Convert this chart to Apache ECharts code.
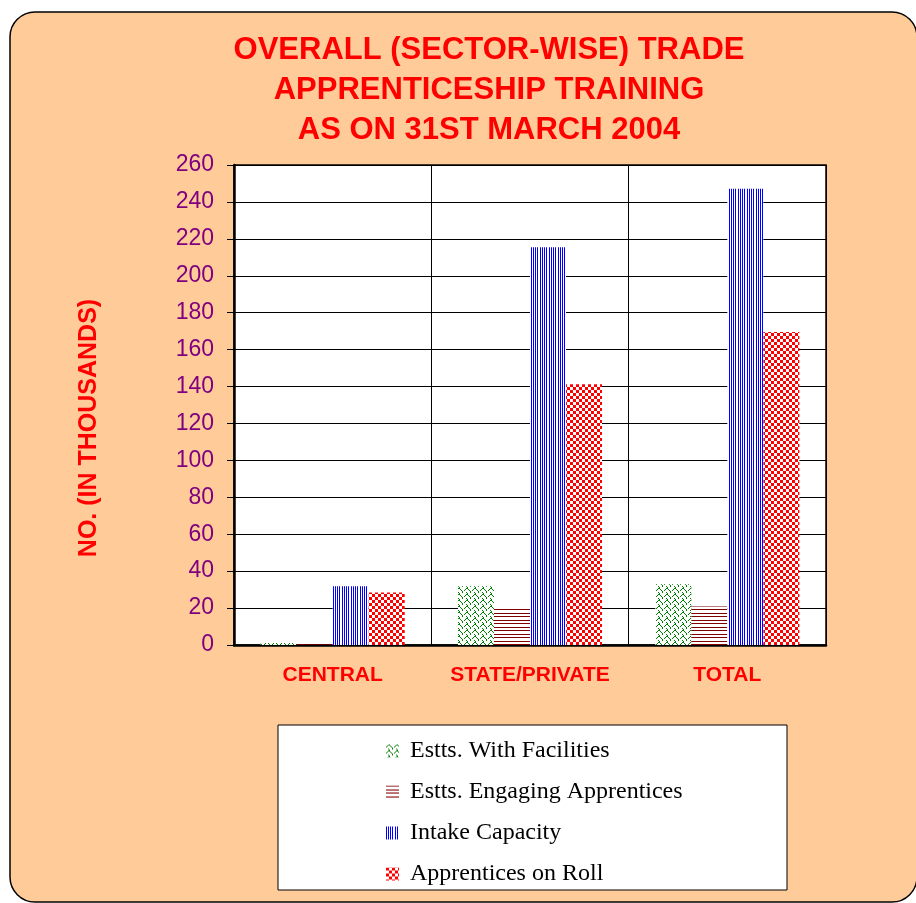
<!DOCTYPE html>
<html>
<head>
<meta charset="utf-8">
<script src="https://cdn.jsdelivr.net/npm/echarts@6/dist/echarts.min.js"></script>
<style>
html,body{margin:0;padding:0;background:#ffffff;}
#chart{width:916px;height:903px;}
</style>
</head>
<body>
<div id="chart"></div>
<script>
var categories = ['CENTRAL', 'STATE/PRIVATE', 'TOTAL'];
var seriesNames = ['Estts. With Facilities', 'Estts. Engaging Apprentices', 'Intake Capacity', 'Apprentices on Roll'];
var withFacilities = [1.1, 31.8, 32.9];
var engaging = [0.4, 20.5, 20.9];
var intakeCapacity = [31.8, 215.4, 247.2];
var onRoll = [28.5, 141.3, 169.6];
var yTicks = [0, 20, 40, 60, 80, 100, 120, 140, 160, 180, 200, 220, 240, 260];
var titleLines = ['OVERALL (SECTOR-WISE) TRADE', 'APPRENTICESHIP TRAINING', 'AS ON 31ST MARCH 2004'];
var yAxisTitle = 'NO. (IN THOUSANDS)';

function makeCanvas(w, h, draw) {
  var c = document.createElement('canvas');
  c.width = w; c.height = h;
  var ctx = c.getContext('2d');
  ctx.fillStyle = '#ffffff';
  ctx.fillRect(0, 0, w, h);
  draw(ctx);
  return {image: c, repeat: 'repeat'};
}
var greenPat = makeCanvas(8, 6, function (ctx) {
  ctx.fillStyle = '#008000';
  var px = [[2,0],[3,0],[1,1],[4,1],[0,2],[5,2],[6,3],[2,4],[6,4],[3,5]];
  px.forEach(function (p) { ctx.fillRect(p[0], p[1], 1, 1); });
});
var darkRedPat = makeCanvas(4, 7, function (ctx) {
  ctx.fillStyle = '#800000';
  ctx.fillRect(0, 0, 4, 1);
  ctx.fillRect(0, 4, 4, 1);
});
var bluePat = makeCanvas(9, 4, function (ctx) {
  ctx.fillStyle = '#0000FF';
  [0, 2, 4, 6].forEach(function (x) { ctx.fillRect(x, 0, 1, 4); });
});
var redPat = makeCanvas(6, 6, function (ctx) {
  ctx.fillStyle = '#FF0000';
  ctx.fillRect(0, 0, 3, 3);
  ctx.fillRect(3, 3, 3, 3);
});
var patterns = [greenPat, darkRedPat, bluePat, redPat];
var values = [withFacilities, engaging, intakeCapacity, onRoll];

var chart = echarts.init(document.getElementById('chart'), null, {renderer: 'canvas'});
var option = {
  animation: false,
  backgroundColor: '#ffffff',
  title: {
    text: titleLines.join('\n'),
    left: 484,
    top: 25,
    textAlign: 'center',
    textStyle: {color: '#FF0000', fontFamily: 'Arial, Liberation Sans, sans-serif', fontWeight: 'bold', fontSize: 31, lineHeight: 40}
  },
  graphic: [
    {type: 'rect', z: -10, shape: {x: 10, y: 12, width: 907, height: 890, r: 25}, style: {fill: '#FFCC99', stroke: '#000000', lineWidth: 1.5}},
    {type: 'rect', z: -5, shape: {x: 278, y: 725, width: 509, height: 165}, style: {fill: '#ffffff', stroke: '#000000', lineWidth: 1}},
    {type: 'text', x: 89, y: 428, rotation: Math.PI / 2, style: {text: yAxisTitle, fill: '#FF0000', font: 'bold 25px Arial, Liberation Sans, sans-serif', align: 'center', verticalAlign: 'middle'}}
  ],
  legend: {
    orient: 'vertical',
    left: 381,
    top: 734,
    itemWidth: 13,
    itemHeight: 13,
    itemGap: 17,
    icon: 'rect',
    data: seriesNames,
    textStyle: {fontFamily: 'Liberation Serif, Times New Roman, serif', fontSize: 24, color: '#000000', lineHeight: 24, padding: [0, 0, 0, 6]}
  },
  grid: {
    left: 234, right: 90, top: 165, bottom: 258,
    show: true, backgroundColor: '#ffffff', borderColor: '#000000', borderWidth: 1.5,
    containLabel: false
  },
  xAxis: {
    type: 'category',
    data: categories,
    axisLine: {lineStyle: {color: '#000000', width: 2.5}},
    axisTick: {show: false},
    splitLine: {show: true, interval: 0, lineStyle: {color: '#000000', width: 1}},
    axisLabel: {interval: 0, color: '#FF0000', fontFamily: 'Arial, Liberation Sans, sans-serif', fontWeight: 'bold', fontSize: 21, margin: 20}
  },
  yAxis: {
    type: 'value',
    min: yTicks[0],
    max: yTicks[yTicks.length - 1],
    interval: yTicks[1] - yTicks[0],
    axisLine: {show: true, lineStyle: {color: '#000000', width: 2.5}},
    axisTick: {show: true, inside: false, length: 7, lineStyle: {color: '#000000', width: 1}},
    splitLine: {show: true, lineStyle: {color: '#000000', width: 1}},
    axisLabel: {color: '#800080', fontFamily: 'Arial, Liberation Sans, sans-serif', fontSize: 23, margin: 20}
  },
  series: seriesNames.map(function (name, i) {
    return {
      name: name,
      type: 'bar',
      data: values[i],
      barGap: '0%',
      barCategoryGap: '27%',
      itemStyle: {color: patterns[i]}
    };
  })
};
chart.setOption(option);
</script>
</body>
</html>
